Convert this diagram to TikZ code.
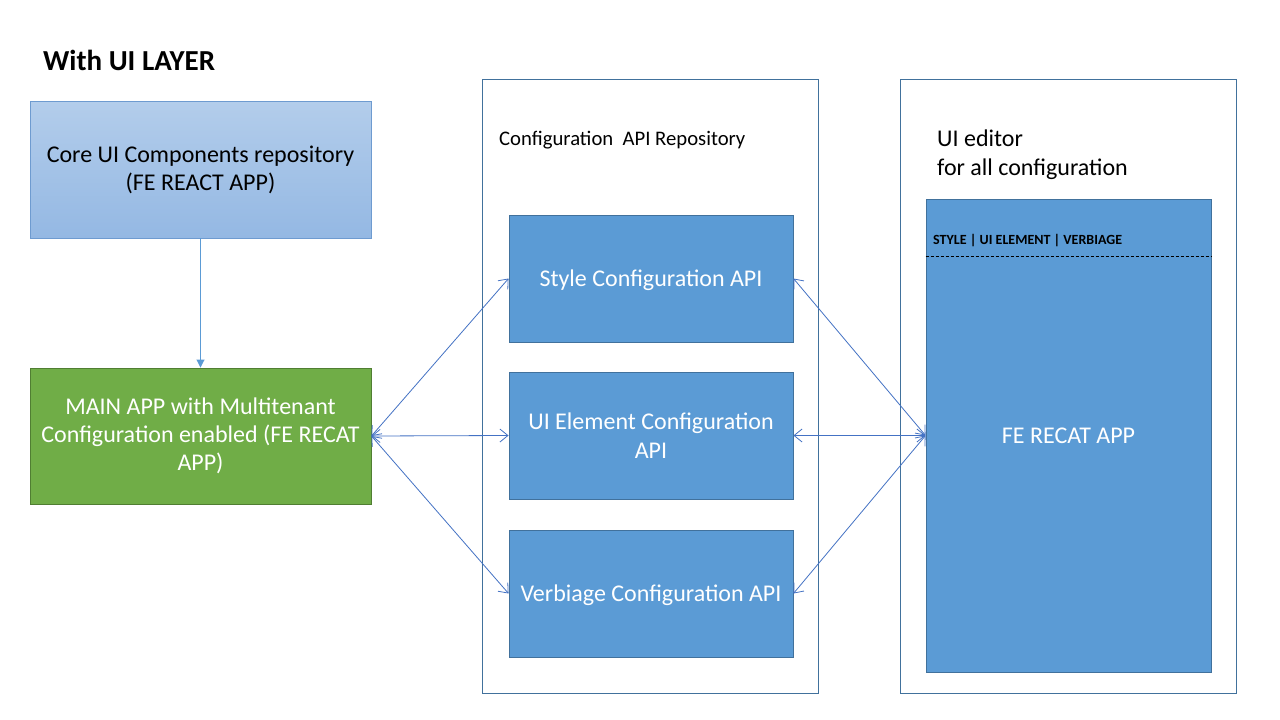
\documentclass[tikz,border=0pt]{standalone}
\usepackage{fontspec}
\setmainfont{Carlito}
\usetikzlibrary{arrows.meta}
\definecolor{bluefill}{HTML}{5B9BD5}
\definecolor{blueline}{HTML}{41719C}
\definecolor{arrowblue}{HTML}{4472C4}
\definecolor{greenfill}{HTML}{70AD47}
\definecolor{greenline}{HTML}{507E32}
\definecolor{coretop}{HTML}{B3CDEB}
\definecolor{corebot}{HTML}{94B8E3}
\definecolor{coreline}{HTML}{6E9BD0}
\begin{document}
\begin{tikzpicture}[x=1pt,y=-1pt,
  bluebox/.style={draw=blueline, fill=bluefill, line width=0.9pt, text=white, align=center,
     minimum width=284pt, minimum height=127pt, font=\fontsize{24}{29}\selectfont},
  panel/.style={draw=blueline, line width=0.9pt, minimum width=336pt, minimum height=614pt},
  conn/.style={draw=arrowblue, line width=0.8pt, {Straight Barb[length=8pt,width=13pt]}-{Straight Barb[length=8pt,width=13pt]}}
]
\useasboundingbox (0,0) rectangle (1280,720);
\fill[white] (0,0) rectangle (1280,720);

\node[anchor=west, inner sep=0pt, font=\fontsize{29}{32}\selectfont\bfseries] (title) at (43,60) {With UI LAYER};

% core box
\node[draw=coreline, line width=0.9pt, top color=coretop, bottom color=corebot,
  minimum width=341pt, minimum height=137pt, align=center,
  font=\fontsize{24}{28}\selectfont] (core) at (200.5,169.5)
  {Core UI Components repository\\(FE REACT APP)};

% main app
\node[draw=greenline, fill=greenfill, line width=0.9pt, text=white,
  minimum width=341pt, minimum height=136pt, align=center,
  font=\fontsize{24}{28}\selectfont] (main) at (200.5,436)
  {MAIN APP with Multitenant\\Configuration enabled (FE RECAT\\APP)};

% panels
\node[panel] (cfgpanel) at (650,386) {};
\node[panel] (uipanel) at (1068.5,386) {};

\node[anchor=west, inner sep=0pt, font=\fontsize{20.7}{24}\selectfont] (cfgtitle) at (499,140) {Configuration\ \ API Repository};
\node[anchor=north west, inner sep=0pt, align=left, font=\fontsize{24}{29}\selectfont] (uititle) at (937,130) {UI editor\\for all configuration};

% blue boxes
\node[bluebox, text depth=0pt] (style) at (651,278.5) {Style Configuration API};
\node[bluebox] (uiel) at (651,435.5) {UI Element Configuration\\API};
\node[bluebox, text depth=0pt] (verb) at (651,593.5) {Verbiage Configuration API};

% FE RECAT APP
\node[draw=blueline, fill=bluefill, line width=0.9pt, minimum width=285pt, minimum height=473pt] (fe) at (1068.5,435.5) {};
\node[text=white, font=\fontsize{24}{28}\selectfont] (felabel) at (1068.5,435.5) {FE RECAT APP};
\draw[black, line width=0.8pt, dash pattern=on 3pt off 2pt] (fe.west |- 0,256) coordinate (dl) -- (fe.east |- 0,256) coordinate (dr);
\node[anchor=west, inner sep=0pt, font=\fontsize{14}{16}\selectfont\bfseries] (tabs) at (933,241) {STYLE | UI ELEMENT | VERBIAGE};

% connectors
\draw[draw=bluefill, line width=0.9pt, -{Triangle[length=8pt,width=8pt]}] (core.south) -- (main.north);
\draw[conn] (main.east) -- (style.west);
\draw[conn] (main.east) -- (uiel.west);
\draw[conn] (main.east) -- (verb.west);
\draw[conn] (style.east) -- (fe.west);
\draw[conn] (uiel.east) -- (fe.west);
\draw[conn] (verb.east) -- (fe.west);
\end{tikzpicture}
\end{document}
